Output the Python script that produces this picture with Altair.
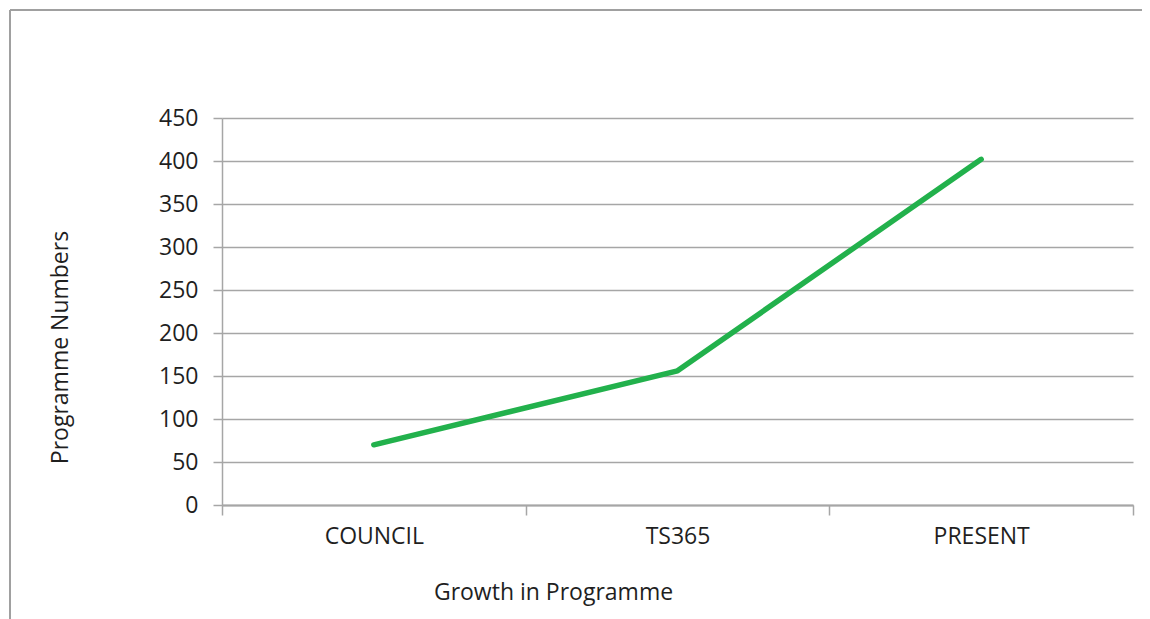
import json
import altair as alt
import pandas as pd

categories = ["COUNCIL", "TS365", "PRESENT"]
values = [70, 156, 402]
y_ticks = [0, 50, 100, 150, 200, 250, 300, 350, 400, 450]

df = pd.DataFrame({
    "cat": categories,
    "pos": [i + 0.5 for i in range(len(categories))],
    "val": values,
})

FONT = "Open Sans"
FS = 23
GRID = "#a6a6a6"
TEXT = "#1f1f1f"
label_expr = json.dumps(categories) + "[floor(datum.value)]"

xscale = alt.Scale(domain=[0, len(categories)], nice=False, zero=False)
yscale = alt.Scale(domain=[0, 450], nice=False)

y_axis = alt.Axis(values=y_ticks, title="Programme Numbers", grid=True, gridColor=GRID,
                  gridWidth=1.5, tickSize=9, tickColor=GRID, tickWidth=1.5,
                  domainColor=GRID, domainWidth=1.5, labelPadding=15,
                  labelFont=FONT, labelFontSize=FS, labelColor=TEXT,
                  titleFont=FONT, titleFontSize=FS, titleColor=TEXT, titleFontWeight="normal",
                  titleX=-162, titleY=229, titleBaseline="middle", titleAngle=-90)

base = alt.Chart(df)

line = base.mark_line(color="#22b14c", strokeWidth=5.5, strokeCap="round", strokeJoin="round").encode(
    x=alt.X("pos:Q", scale=xscale,
            axis=alt.Axis(orient="bottom", values=list(range(len(categories) + 1)), labels=False,
                          title=None, grid=False, tickSize=10, tickColor=GRID, tickWidth=1.5,
                          domainColor=GRID, domainWidth=2)),
    y=alt.Y("val:Q", scale=yscale, axis=y_axis),
)

labels_layer = base.mark_point(opacity=0).encode(
    x=alt.X("pos:Q", scale=xscale,
            axis=alt.Axis(orient="bottom", values=[i + 0.5 for i in range(len(categories))],
                          labelExpr=label_expr, tickSize=0, domain=False, grid=False,
                          labelPadding=20, labelFont=FONT, labelFontSize=FS, labelColor=TEXT,
                          title="Growth in Programme", titleFont=FONT, titleFontSize=FS,
                          titleColor=TEXT, titleFontWeight="normal",
                          titleX=331, titleY=87, titleBaseline="middle", titleAlign="center")),
    y=alt.Y("val:Q", scale=yscale, axis=y_axis),
)

frame_df = pd.DataFrame({"k": [0]})
frame_v = alt.Chart(frame_df).mark_rule(color="#a0a0a0", strokeWidth=2, clip=False).encode(
    x=alt.value(-212), y=alt.value(-108), y2=alt.value(520))
frame_h = alt.Chart(frame_df).mark_rule(color="#a0a0a0", strokeWidth=2, clip=False).encode(
    x=alt.value(-212), x2=alt.value(940), y=alt.value(-108))

chart = alt.layer(line, labels_layer, frame_v, frame_h).resolve_axis(x="independent").properties(
    width=911, height=387,
    autosize=alt.AutoSizeParams(type="none"),
    padding={"left": 214, "top": 110, "right": 9, "bottom": 114},
).configure_view(stroke=None)

chart.save("out.html", embed_options={"renderer": "svg", "actions": False})
